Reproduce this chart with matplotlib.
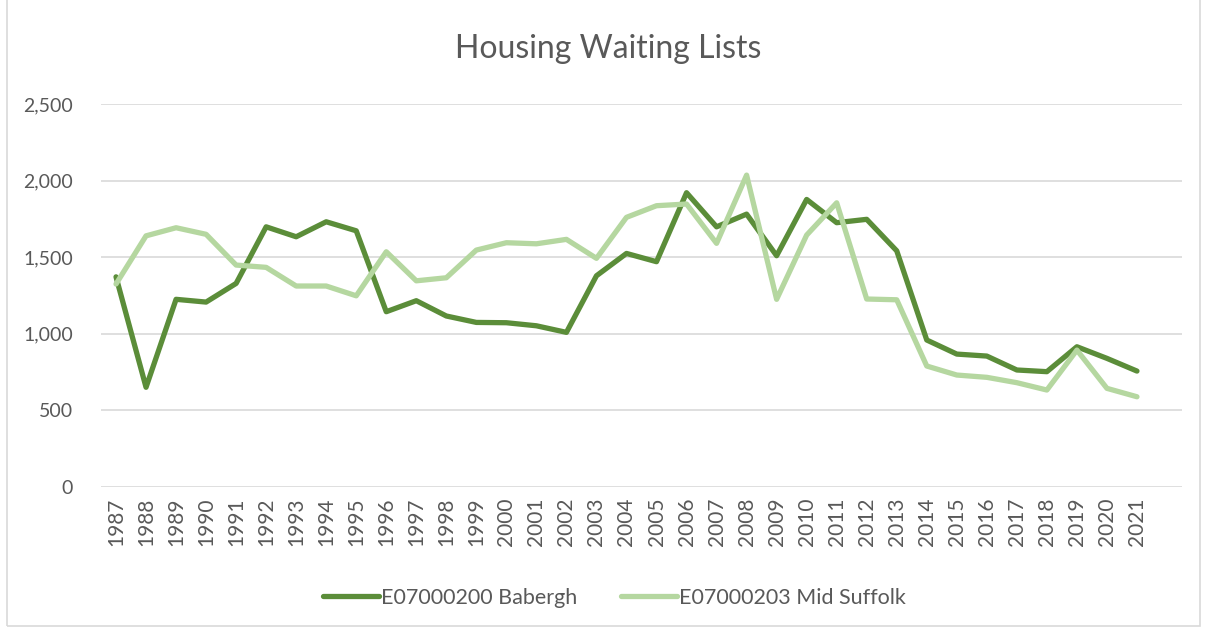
import matplotlib.pyplot as plt
from matplotlib.patches import Rectangle

years = [str(y) for y in range(1987, 2022)]

babergh = [1372, 650, 1225, 1207, 1329, 1699, 1634, 1732, 1673, 1144,
           1216, 1116, 1074, 1072, 1052, 1009, 1379, 1525, 1471, 1922,
           1699, 1782, 1510, 1878, 1726, 1748, 1542, 959, 867, 854,
           763, 752, 915, 839, 756]

mid_suffolk = [1325, 1640, 1693, 1650, 1449, 1434, 1312, 1312, 1248, 1536,
               1346, 1366, 1547, 1595, 1588, 1617, 1493, 1761, 1837, 1848,
               1591, 2037, 1225, 1645, 1856, 1227, 1222, 789, 730, 715,
               680, 632, 893, 643, 588]

dark = "#5B8D39"
light = "#B5D7A0"
text_col = "#595959"

plt.rcParams["font.family"] = ["Lato", "DejaVu Sans"]

fig = plt.figure(figsize=(12.05, 6.29), dpi=100)
ax = fig.add_axes([101 / 1205, 142.3 / 629, 1081 / 1205, 382.4 / 629])

x = list(range(len(years)))
ax.plot(x, babergh, color=dark, lw=3.8, label="E07000200 Babergh",
        solid_joinstyle="round", solid_capstyle="round")
ax.plot(x, mid_suffolk, color=light, lw=3.8, label="E07000203 Mid Suffolk",
        solid_joinstyle="round", solid_capstyle="round")

# one empty slot at the end, like the original sheet
ax.set_xlim(-0.5, len(years) + 0.5)
ax.set_ylim(0, 2500)
ax.set_yticks(range(0, 2501, 500))
ax.set_yticklabels([f"{v:,}" for v in range(0, 2501, 500)])
ax.set_xticks(x)
ax.set_xticklabels(years, rotation=90)

ax.grid(axis="y", color="#D9D9D9", lw=1.2)
ax.set_axisbelow(True)
for s in ax.spines.values():
    s.set_visible(False)
ax.tick_params(axis="both", length=0, colors=text_col, labelsize=14)
ax.tick_params(axis="x", pad=8, labelsize=15)
ax.tick_params(axis="y", pad=20)

fig.text(0.505, 0.922, "Housing Waiting Lists", ha="center", va="center",
         fontsize=23, color=text_col)

leg = fig.legend(loc="center", bbox_to_anchor=(0.51, 0.05), ncol=2,
                 frameon=False, fontsize=15.5, handlelength=2.6,
                 handletextpad=0.1, columnspacing=2.0)
for t in leg.get_texts():
    t.set_color(text_col)

fig.patches.append(Rectangle((0.006, 0.004), 0.99, 1.2, transform=fig.transFigure,
                             fill=False, ec="#D9D9D9", lw=1.2))

fig.savefig("out.png", dpi=100)
